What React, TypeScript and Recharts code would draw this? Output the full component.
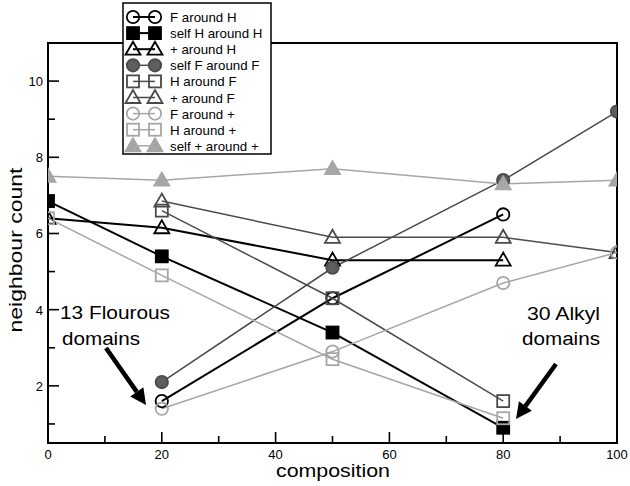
import React from "react";
import { LineChart, Line, XAxis, YAxis, ReferenceArea } from "recharts";

// composition values where neighbour counts were sampled
const compositions = [0, 20, 50, 80, 100];

// neighbour counts per series (null = not sampled)
const fAroundH = [null, 1.6, 4.3, 6.5, null];
const selfHAroundH = [6.85, 5.4, 3.4, 0.9, null];
const plusAroundH = [6.4, 6.15, 5.3, 5.3, null];
const selfFAroundF = [null, 2.1, 5.1, 7.4, 9.2];
const hAroundF = [null, 6.6, 4.3, 1.6, null];
const plusAroundF = [null, 6.85, 5.9, 5.9, 5.5];
const fAroundPlus = [null, 1.4, 2.9, 4.7, 5.5];
const hAroundPlus = [6.4, 4.9, 2.7, 1.15, null];
const selfPlusAroundPlus = [7.5, 7.4, 7.7, 7.3, 7.4];

const xTicks = [0, 10, 20, 30, 40, 50, 60, 70, 80, 90, 100];
const yTicks = [1, 2, 3, 4, 5, 6, 7, 8, 9, 10];

const BLACK = "#000000";
const DARK = "#4a4a4a";
const DARK_FILL = "#5e5e5e";
const LIGHT = "#a6a6a6";

type Shape = "circle" | "square" | "triangle";

const series = [
  { key: "fAroundH", name: "F around H", values: fAroundH, color: BLACK, fill: "none", shape: "circle" as Shape, width: 2 },
  { key: "selfHAroundH", name: "self H around H", values: selfHAroundH, color: BLACK, fill: BLACK, shape: "square" as Shape, width: 2 },
  { key: "plusAroundH", name: "+ around H", values: plusAroundH, color: BLACK, fill: "none", shape: "triangle" as Shape, width: 2 },
  { key: "selfFAroundF", name: "self F around F", values: selfFAroundF, color: DARK, fill: DARK_FILL, shape: "circle" as Shape, width: 1.5 },
  { key: "hAroundF", name: "H around F", values: hAroundF, color: DARK, fill: "none", shape: "square" as Shape, width: 1.5 },
  { key: "plusAroundF", name: "+ around F", values: plusAroundF, color: DARK, fill: "none", shape: "triangle" as Shape, width: 1.5 },
  { key: "fAroundPlus", name: "F around +", values: fAroundPlus, color: LIGHT, fill: "none", shape: "circle" as Shape, width: 1.5 },
  { key: "hAroundPlus", name: "H around +", values: hAroundPlus, color: LIGHT, fill: "none", shape: "square" as Shape, width: 1.5 },
  { key: "selfPlusAroundPlus", name: "self + around +", values: selfPlusAroundPlus, color: LIGHT, fill: LIGHT, shape: "triangle" as Shape, width: 1.5 },
];

const data = compositions.map((c, i) => {
  const row: Record<string, number | null> = { composition: c };
  series.forEach((s) => {
    row[s.key] = s.values[i];
  });
  return row;
});

const FONT = "'Liberation Sans', Arial, Helvetica, sans-serif";

function Marker({ shape, cx, cy, color, fill }: { shape: Shape; cx: number; cy: number; color: string; fill: string }) {
  if (shape === "circle") {
    return <circle cx={cx} cy={cy} r={6.2} fill={fill} stroke={color} strokeWidth={1.8} />;
  }
  if (shape === "square") {
    return <rect x={cx - 6} y={cy - 6} width={12} height={12} fill={fill} stroke={color} strokeWidth={1.8} />;
  }
  return (
    <polygon
      points={`${cx},${cy - 7.5} ${cx - 7.5},${cy + 5.5} ${cx + 7.5},${cy + 5.5}`}
      fill={fill}
      stroke={color}
      strokeWidth={1.8}
      strokeLinejoin="miter"
    />
  );
}

function makeDot(shape: Shape, color: string, fill: string) {
  return (props: any) => {
    const { cx, cy, value, index } = props;
    if (cx == null || cy == null || value == null || Number.isNaN(cy)) {
      return <g key={`e-${index}`} />;
    }
    return (
      <g key={`d-${index}`}>
        <Marker shape={shape} cx={cx} cy={cy} color={color} fill={fill} />
      </g>
    );
  };
}

function YTick(props: any) {
  const { x, y, payload } = props;
  const major = payload.value % 2 === 0;
  return (
    <g>
      <line x1={x} x2={x + (major ? 11 : 7)} y1={y} y2={y} stroke="#000" strokeWidth={1.6} />
      {major && (
        <text x={x - 5} y={y + 5} textAnchor="end" fontSize={13} fontFamily={FONT} fill="#000">
          {payload.value}
        </text>
      )}
    </g>
  );
}

function XTick(props: any) {
  const { x, y, payload } = props;
  const major = payload.value % 20 === 0;
  return (
    <g>
      <line x1={x} x2={x} y1={y} y2={y - (major ? 11 : 7)} stroke="#000" strokeWidth={1.6} />
      {major && (
        <text x={x} y={y + 16} textAnchor="middle" fontSize={13} fontFamily={FONT} fill="#000">
          {payload.value}
        </text>
      )}
    </g>
  );
}

function Arrow({ x1, y1, x2, y2 }: { x1: number; y1: number; x2: number; y2: number }) {
  const dx = x2 - x1;
  const dy = y2 - y1;
  const len = Math.sqrt(dx * dx + dy * dy);
  const ux = dx / len;
  const uy = dy / len;
  const headLen = 16;
  const headW = 8;
  const bx = x2 - ux * headLen;
  const by = y2 - uy * headLen;
  return (
    <g>
      <line x1={x1} y1={y1} x2={bx} y2={by} stroke="#000" strokeWidth={4.5} />
      <polygon
        points={`${x2},${y2} ${bx - uy * headW},${by + ux * headW} ${bx + uy * headW},${by - ux * headW}`}
        fill="#000"
      />
    </g>
  );
}

function Overlay() {
  const rowY = (i: number) => 17 + i * 16.1;
  return (
    <svg width={630} height={486} style={{ position: "absolute", left: 0, top: 0, pointerEvents: "none" }}>
      {/* legend */}
      <rect x={123} y={3} width={148} height={151} fill="#fff" stroke="#000" strokeWidth={1.5} />
      {series.map((s, i) => (
        <g key={s.key}>
          <line x1={133} x2={155} y1={rowY(i)} y2={rowY(i)} stroke={s.color} strokeWidth={s.width} />
          <Marker shape={s.shape} cx={133} cy={rowY(i)} color={s.color} fill={s.fill} />
          <Marker shape={s.shape} cx={155} cy={rowY(i)} color={s.color} fill={s.fill} />
          <text x={170} y={rowY(i) + 5} fontSize={13.3} fontFamily={FONT} fill="#000">
            {s.name}
          </text>
        </g>
      ))}

      {/* annotations */}
      <text x={60} y={319} fontSize={18} fontFamily={FONT} textLength={110} lengthAdjust="spacingAndGlyphs">
        13 Flourous
      </text>
      <text x={62} y={345} fontSize={18} fontFamily={FONT} textLength={78} lengthAdjust="spacingAndGlyphs">
        domains
      </text>
      <Arrow x1={106} y1={348} x2={146} y2={405} />

      <text x={527} y={320} fontSize={18} fontFamily={FONT} textLength={73} lengthAdjust="spacingAndGlyphs">
        30 Alkyl
      </text>
      <text x={522} y={345} fontSize={18} fontFamily={FONT} textLength={78} lengthAdjust="spacingAndGlyphs">
        domains
      </text>
      <Arrow x1={556} y1={364} x2={516} y2={419} />

      {/* axis titles */}
      <text x={333} y={477} textAnchor="middle" fontSize={19} fontFamily={FONT} textLength={114} lengthAdjust="spacingAndGlyphs">
        composition
      </text>
      <text
        x={0}
        y={0}
        transform="translate(22,250) rotate(-90)"
        textAnchor="middle"
        fontSize={19}
        fontFamily={FONT}
        textLength={165}
        lengthAdjust="spacingAndGlyphs"
      >
        neighbour count
      </text>
    </svg>
  );
}

export default function App() {
  return (
    <div style={{ position: "absolute", left: 0, top: 0, width: 630, height: 486, background: "#fff" }}>
      <LineChart width={630} height={486} data={data} margin={{ top: 43, right: 13, bottom: 0, left: 0 }}>
        <XAxis
          dataKey="composition"
          type="number"
          domain={[0, 100]}
          ticks={xTicks}
          interval={0}
          height={43}
          tickSize={0}
          tickMargin={0}
          tickLine={false}
          axisLine={false}
          tick={<XTick />}
          allowDataOverflow
        />
        <YAxis
          type="number"
          domain={[0.5, 11]}
          ticks={yTicks}
          interval={0}
          width={48}
          tickSize={0}
          tickMargin={0}
          tickLine={false}
          axisLine={false}
          tick={<YTick />}
          allowDataOverflow
        />
        <ReferenceArea x1={0} x2={100} y1={0.5} y2={11} fill="none" stroke="#000" strokeWidth={2} ifOverflow="visible" />
        {series.map((s) => (
          <Line
            key={s.key}
            dataKey={s.key}
            name={s.name}
            stroke={s.color}
            strokeWidth={s.width}
            connectNulls
            isAnimationActive={false}
            dot={makeDot(s.shape, s.color, s.fill)}
            activeDot={false}
          />
        ))}
      </LineChart>
      <Overlay />
    </div>
  );
}
